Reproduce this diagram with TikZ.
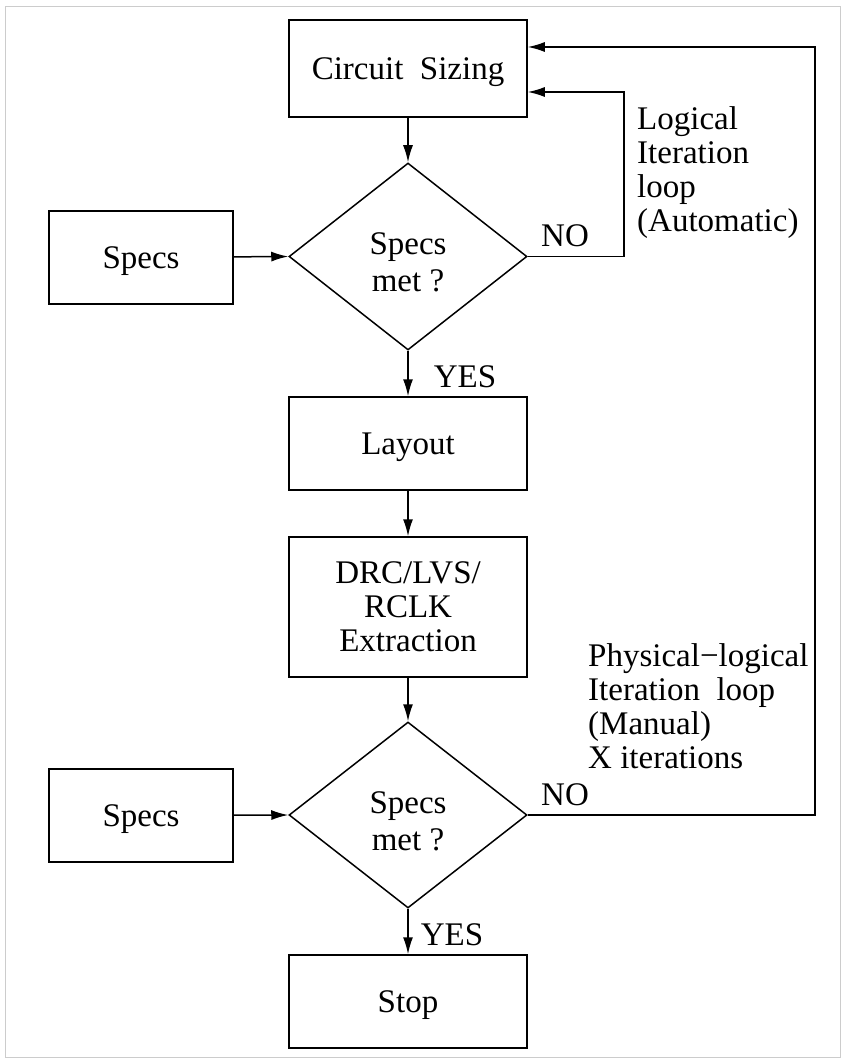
\documentclass[tikz,border=0pt]{standalone}
\usepackage{fontspec}
\setmainfont{Liberation Serif}
\usetikzlibrary{shapes.geometric,arrows.meta}
\begin{document}
\begin{tikzpicture}[x=1pt,y=-1pt,
  every node/.style={font=\fontsize{33}{34}\selectfont},
  box/.style={draw,line width=1.5pt,minimum width=238pt,minimum height=93pt,inner sep=0pt,align=center,text depth=0pt},
  dia/.style={draw,diamond,line width=1.5pt,minimum width=238pt,minimum height=187pt,inner sep=0pt,align=center,font=\fontsize{33}{37}\selectfont,text height=70pt,text depth=0pt},
  arr/.style={line width=1.5pt,-{Latex[length=17pt,width=10pt]}},
  lbl/.style={align=left,anchor=west,inner sep=0pt,text depth=0pt}]
\useasboundingbox (0,0) rectangle (845,1059);
\fill[white] (0,0) rectangle (845,1059);
\draw[line width=1pt,black!20] (5,7) rectangle (840,1057);

\node[box,minimum height=97pt] (cs) at (408,68.5) {Circuit\ \ Sizing};
\node[dia] (d1) at (408,256.5) {Specs\\met ?};
\node[box,minimum width=184pt] (sp1) at (141,257.5) {Specs};
\node[box] (lay) at (408,443.5) {Layout};
\node[box,minimum height=140pt] (drc) at (408,607) {DRC/LVS/\\RCLK\\Extraction};
\node[dia,minimum height=186pt] (d2) at (408,815) {Specs\\met ?};
\node[box,minimum width=184pt] (sp2) at (141,815.5) {Specs};
\node[box] (stop) at (408,1001.5) {Stop};

\node (no1) at (565,236) {NO};
\node (yes1) at (465,377) {YES};
\node (no2) at (565,795) {NO};
\node (yes2) at (452,935) {YES};

\node[lbl] (lab1) at (637,169) {Logical\\Iteration\\loop\\(Automatic)};
\node[lbl] (lab2) at (588,706) {Physical−logical\\Iteration\ \ loop\\(Manual)\\X iterations};

\coordinate (l1) at (624,92);
\coordinate (l2) at (815,47);

\draw[arr] (cs) -- (d1);
\draw[arr] (sp1) -- (d1.west);
\draw[arr] (d1.south) -- (lay.north);
\draw[arr] (lay) -- (drc);
\draw[arr] (drc.south) -- (d2.north);
\draw[arr] (sp2) -- (d2.west);
\draw[arr] (d2.south) -- (stop.north);
\draw[arr] (d1.east) -| (l1) -- (cs.east |- l1);
\draw[arr] (d2.east) -| (l2) -- (cs.east |- l2);
\end{tikzpicture}
\end{document}
